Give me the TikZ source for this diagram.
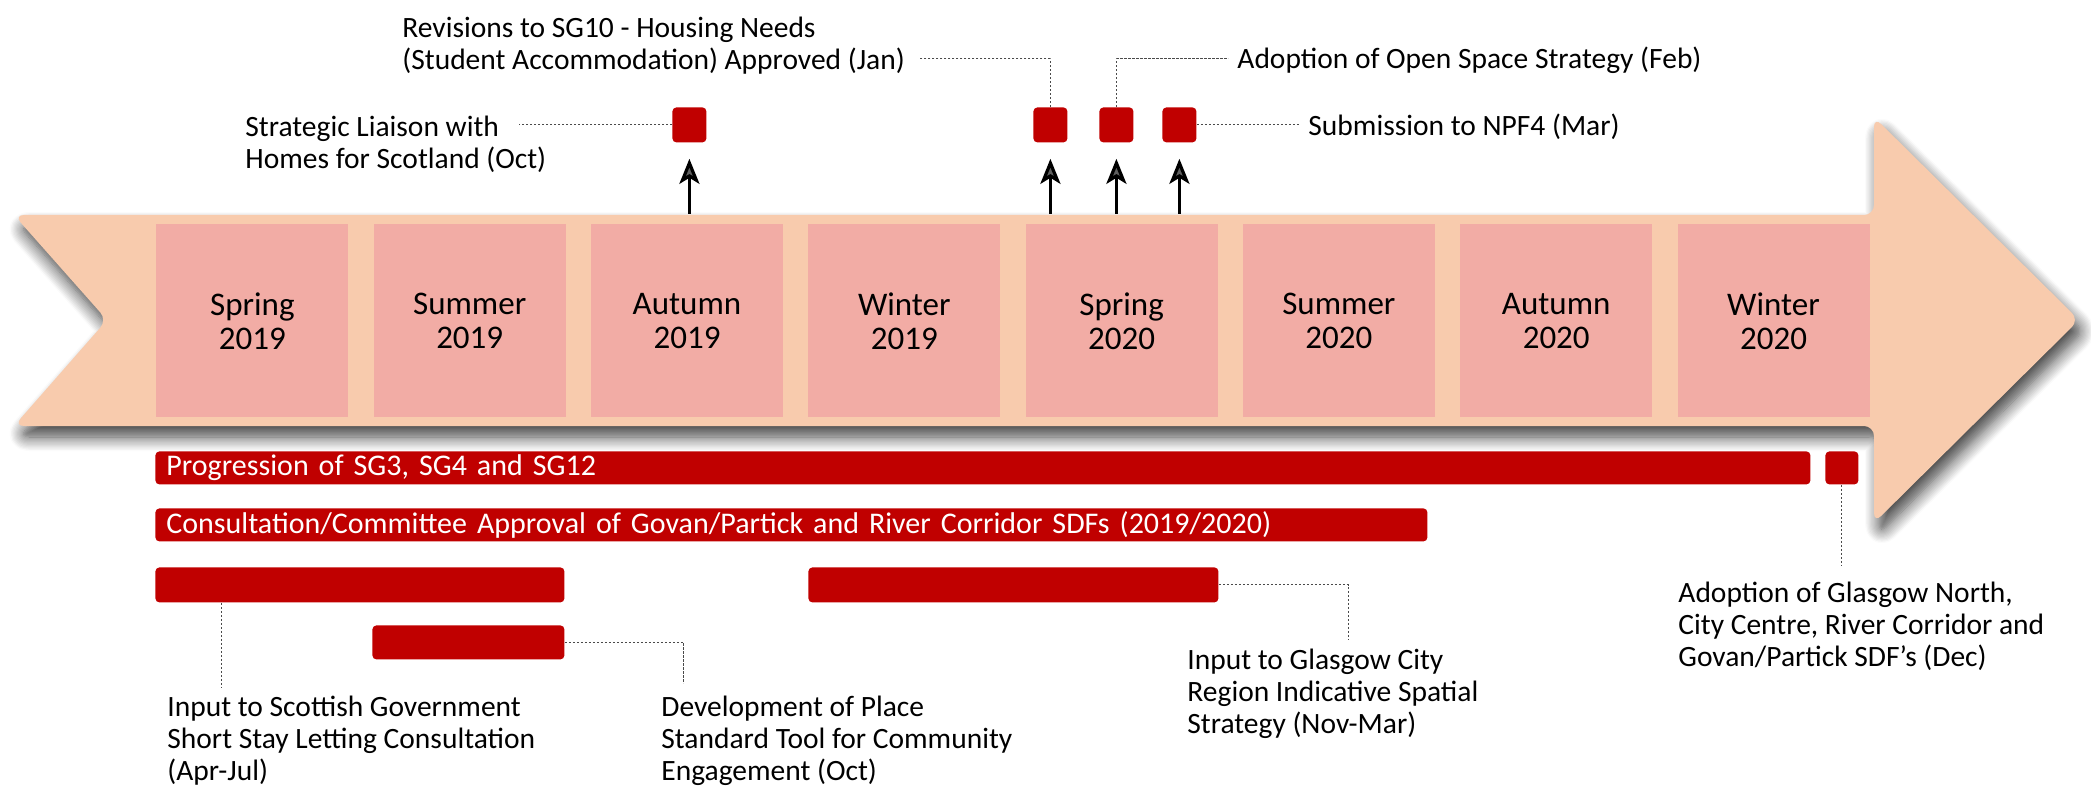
\documentclass[tikz,border=0pt]{standalone}
\usepackage{fontspec}
\setmainfont{Carlito}
\usetikzlibrary{arrows.meta,shadows.blur,calc}
\definecolor{peach}{HTML}{F8CBAD}
\definecolor{seasonpink}{HTML}{F2ACA5}
\definecolor{barred}{HTML}{C00000}
\definecolor{leadgray}{HTML}{4A4A4A}
\begin{document}
\begin{tikzpicture}[x=0.5pt,y=-0.5pt,
 season/.style={fill=seasonpink, minimum width=96pt, minimum height=96.5pt, inner sep=0pt, anchor=north west, align=center, font=\fontsize{16.5}{17}\selectfont},
 ev/.style={fill=barred, rounded corners=2pt, minimum width=17pt, minimum height=17.5pt, inner sep=0pt, anchor=north west},
 bar/.style={fill=barred, rounded corners=2pt, minimum height=16.5pt, inner ysep=0pt, inner xsep=5.5pt, anchor=north west, text=white, align=left, font=\fontsize{15}{16}\selectfont},
 lbl/.style={anchor=north west, inner sep=0pt, align=left, font=\fontsize{14.75}{16}\selectfont},
 leader/.style={leadgray, line width=0.5pt, dash pattern=on 1.2pt off 0.8pt},
 uparrow/.style={-{Stealth[length=12.5pt,width=10pt,inset=3pt]}, line width=1.6pt, shorten >=8pt}]
\useasboundingbox (0,0) rectangle (2091,786);

% main arrow
\fill[peach, rounded corners=5pt, blur shadow={shadow xshift=2.5pt, shadow yshift=-5.5pt, shadow blur radius=7pt, shadow blur steps=12, shadow opacity=75}]
  (14,215) -- (1874,215) -- (1874,117) -- (2079,320) -- (1874,523) -- (1874,426) -- (14,426) -- (107,320) -- cycle;
\coordinate (bodytop) at (0,214);

% seasons
\node[season] (s1) at (156,224) {Spring\\2019};
\node[season] (s2) at (373.3,224) {Summer\\2019};
\node[season] (s3) at (590.6,224) {Autumn\\2019};
\node[season] (s4) at (807.9,224) {Winter\\2019};
\node[season] (s5) at (1025.2,224) {Spring\\2020};
\node[season] (s6) at (1242.5,224) {Summer\\2020};
\node[season] (s7) at (1459.8,224) {Autumn\\2020};
\node[season] (s8) at (1677.1,224) {Winter\\2020};

% top events
\node[ev] (evOct) at (672,107) {};
\node[ev] (evJan) at (1033,107) {};
\node[ev] (evFeb) at (1099,107) {};
\node[ev] (evMar) at (1162,107) {};

\foreach \e in {evOct,evJan,evFeb,evMar}
  \draw[uparrow] (\e.south |- bodytop) -- (\e.south);

\node[lbl] (lStrat) at (245,116) {Strategic Liaison with\\Homes for Scotland (Oct)};
\node[lbl] (lJan) at (402,17) {Revisions to SG10 - Housing Needs\\(Student Accommodation) Approved (Jan)};
\node[lbl] (lFeb) at (1237,47) {Adoption of Open Space Strategy (Feb)};
\node[lbl] (lMar) at (1308,114) {Submission to NPF4 (Mar)};

\draw[leader] (evOct.west) -- ++(-153,0);
\draw[leader] (evJan.north) -- ++(0,-48) -- ++(-131,0);
\draw[leader] (evFeb.north) -- ++(0,-48) -- ++(112,0);
\draw[leader] (evMar.east) -- ++(102,0);

% bottom bars
\node[bar, minimum width=827.5pt, text width=816.5pt] (barProg) at (155,451) {Progression of SG3, SG4 and SG12};
\node[ev, minimum height=16.5pt, minimum width=16.5pt] (evDec) at (1825,451) {};
\node[bar, minimum width=636pt, text width=625pt] (barCons) at (155,508) {Consultation/Committee Approval of Govan/Partick and River Corridor SDFs (2019/2020)};
\node[bar, minimum width=204.5pt, minimum height=17.5pt] (barApr) at (155,567) {};
\node[bar, minimum width=96pt, minimum height=17pt] (barOct) at (372,625) {};
\node[bar, minimum width=205pt, minimum height=17.5pt] (barNov) at (808,567) {};

\node[lbl] (lApr) at (167,696) {Input to Scottish Government\\Short Stay Letting Consultation\\(Apr-Jul)};
\node[lbl] (lOct) at (661,696) {Development of Place\\Standard Tool for Community\\Engagement (Oct)};
\node[lbl] (lNov) at (1187,649) {Input to Glasgow City\\Region Indicative Spatial\\Strategy (Nov-Mar)};
\node[lbl] (lDec) at (1678,582) {Adoption of Glasgow North,\\City Centre, River Corridor and\\Govan/Partick SDF’s (Dec)};

\draw[leader] ([xshift=33pt]barApr.south west) -- ++(0,85);
\draw[leader] (barOct.east) -- ++(119,0) -- ++(0,41);
\draw[leader] (barNov.east) -- ++(130,0) -- ++(0,55);
\draw[leader] (evDec.south) -- ++(0,81);
\end{tikzpicture}
\end{document}
